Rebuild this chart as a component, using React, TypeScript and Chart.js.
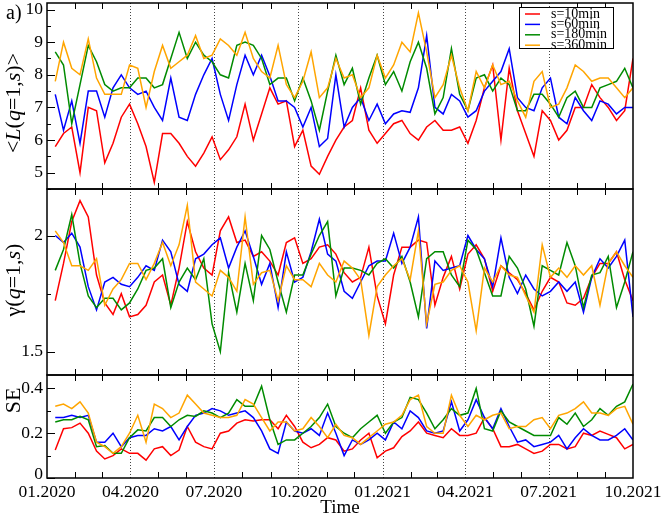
import React, { useEffect, useRef } from 'react';
import Chart from 'chart.js/auto';

// days counted from 01.01.2020, one point every 9 days
const days = [
  9, 18, 27, 36, 45, 54, 63, 72, 81, 90, 99, 108, 117, 126, 135, 144, 153, 162, 171, 180,
  189, 198, 207, 216, 225, 234, 243, 252, 261, 270, 279, 288, 297, 306, 315, 324, 333, 342, 351, 360,
  369, 378, 387, 396, 405, 414, 423, 432, 441, 450, 459, 468, 477, 486, 495, 504, 513, 522, 531, 540,
  549, 558, 567, 576, 585, 594, 603, 612, 621, 630, 639,
];

const seriesNames = ['s=10min', 's=60min', 's=180min', 's=360min'];

// <L(q=1,s)>
const lRed = [
  5.8, 6.2, 6.4, 5.0, 7.0, 6.9, 5.3, 5.9, 6.7, 7.1,
  6.5, 5.8, 4.7, 6.2, 6.2, 5.9, 5.5, 5.2, 5.6, 6.1,
  5.4, 5.7, 6.1, 7.1, 6.0, 6.8, 7.6, 7.1, 7.2, 5.8,
  6.3, 5.2, 4.95, 5.5, 6.0, 6.4, 6.6, 7.6, 6.3, 5.9,
  6.2, 6.5, 6.6, 6.2, 6.0, 6.4, 6.6, 6.3, 6.3, 6.4,
  5.9, 6.6, 7.6, 8.3, 6.0, 8.2, 6.9, 6.2, 5.5, 6.9,
  6.6, 6.0, 6.3, 7.0, 7.0, 7.7, 7.3, 7.0, 6.6, 6.9, 8.5,
];
const lBlue = [
  7.4, 6.3, 7.2, 5.9, 7.5, 7.5, 6.7, 7.6, 8.0, 7.6,
  7.4, 7.5, 7.0, 6.6, 7.9, 6.7, 6.6, 7.4, 8.0, 8.5,
  7.4, 6.6, 7.7, 8.6, 8.0, 8.6, 7.96, 7.2, 7.2, 7.0,
  6.4, 7.0, 5.8, 6.05, 8.0, 6.4, 7.0, 7.3, 6.6, 7.1,
  6.5, 6.8, 6.9, 6.85, 7.6, 9.2, 7.0, 6.8, 7.4, 7.2,
  6.7, 6.9, 7.5, 7.8, 8.1, 8.8, 7.3, 7.0, 6.9, 7.6,
  7.9, 6.7, 6.5, 7.3, 6.9, 6.6, 7.2, 7.1, 6.8, 7.0, 7.0,
];
const lGreen = [
  8.7, 8.3, 6.5, 7.7, 8.9, 8.4, 7.7, 7.5, 7.6, 7.6,
  7.9, 7.9, 7.6, 7.7, 8.5, 9.3, 8.5, 9.0, 8.6, 8.4,
  8.0, 7.9, 8.9, 9.0, 8.9, 8.5, 7.7, 7.9, 7.9, 7.2,
  7.9, 7.2, 6.3, 7.5, 8.6, 7.7, 8.2, 7.1, 7.9, 8.6,
  7.7, 8.1, 7.5, 8.4, 9.0, 8.2, 6.8, 7.3, 8.8, 7.4,
  6.9, 7.9, 8.0, 7.5, 7.9, 7.7, 6.9, 6.9, 7.4, 7.4,
  7.1, 6.7, 7.3, 7.5, 7.0, 7.0, 7.6, 7.7, 7.8, 8.2, 7.6,
];
const lOrange = [
  7.8, 9.0, 8.2, 8.0, 9.1, 7.9, 7.4, 7.4, 7.4, 8.3,
  8.2, 7.0, 8.1, 8.9, 8.2, 8.4, 8.6, 9.2, 8.5, 8.6,
  9.1, 8.9, 8.6, 9.3, 8.5, 8.1, 7.9, 8.9, 7.7, 7.3,
  7.8, 8.7, 7.3, 7.6, 8.5, 7.9, 8.0, 7.3, 7.6, 8.6,
  7.9, 8.3, 9.0, 8.7, 9.9, 8.7, 7.3, 7.7, 8.6, 7.6,
  6.9, 8.1, 7.6, 8.3, 7.7, 7.8, 7.2, 6.7, 7.8, 8.1,
  7.0, 7.1, 7.6, 8.3, 8.1, 7.8, 7.9, 7.9, 7.6, 7.3, 7.6,
];

// γ(q=1,s)
const gRed = [
  1.72, 1.88, 2.06, 2.15, 2.08, 1.83, 1.71, 1.66, 1.75, 1.65,
  1.66, 1.7, 1.8, 1.83, 1.7, 1.86, 2.06, 1.93, 1.86, 1.83,
  2.02, 2.08, 1.97, 1.98, 1.91, 1.93, 1.89, 1.83, 1.97, 1.99,
  1.88, 1.9, 1.95, 1.96, 1.92, 1.84, 1.8, 1.82, 1.95, 1.74,
  1.62, 1.83, 1.95, 1.95, 1.98, 1.97, 1.7, 1.82, 1.91, 1.77,
  1.92, 1.96, 1.9, 1.76, 1.87, 1.84, 1.81, 1.75, 1.68, 1.76,
  1.82, 1.8, 1.71, 1.7, 1.73, 1.82, 1.88, 1.88, 1.93, 1.81, 1.72,
];
const gBlue = [
  2.0, 1.97, 2.01, 1.95, 1.78, 1.68, 1.8, 1.82, 1.79, 1.78,
  1.82, 1.87, 1.85, 1.98, 1.93, 1.79, 1.76, 1.9, 1.92, 1.96,
  1.99, 1.86, 1.95, 2.02, 1.91, 1.79, 1.88, 1.69, 1.93, 1.8,
  1.82, 1.93, 2.07, 1.92, 1.89, 1.76, 1.73, 1.8, 1.87, 1.89,
  1.89, 2.01, 1.88, 1.95, 2.08, 1.6, 1.89, 1.85, 1.86, 1.87,
  2.0, 1.94, 1.9, 1.78, 1.99, 1.82, 1.75, 1.83, 1.77, 1.74,
  1.76, 1.8, 1.76, 1.8, 1.67, 1.82, 1.9, 1.86, 1.91, 1.98, 1.65,
];
const gGreen = [
  1.85, 1.94, 2.09, 1.88, 1.74, 1.69, 1.73, 1.73, 1.68, 1.71,
  1.77, 1.85, 1.86, 1.9, 1.69, 1.8, 1.86, 1.81, 1.9, 1.62,
  1.5, 1.84, 1.67, 1.88, 1.72, 2.0, 1.94, 1.8, 1.67, 1.83,
  1.83, 1.92, 2.0, 2.06, 1.74, 1.86, 1.86, 1.85, 1.83, 1.88,
  1.9, 1.86, 1.91, 1.8, 1.65, 1.9, 1.93, 1.93, 1.83, 1.78,
  1.98, 1.94, 1.84, 1.74, 1.74, 1.91, 1.86, 1.77, 1.61, 1.87,
  1.85, 1.83, 1.97, 1.87, 1.69, 1.83, 1.84, 1.91, 1.69, 1.8, 1.93,
];
const gOrange = [
  2.02, 1.97, 1.87, 1.87, 1.85, 1.9, 1.7, 1.77, 1.81, 1.88,
  1.88, 1.81, 1.88, 1.97, 1.87, 1.96, 2.13, 1.8, 1.77, 1.74,
  1.85, 1.82, 1.76, 2.08, 1.79, 1.84, 1.85, 1.72, 1.87, 1.81,
  1.81, 1.78, 1.88, 1.83, 1.8, 1.89, 1.86, 1.81, 1.57, 1.78,
  1.83, 1.87, 1.9, 1.81, 2.02, 1.62, 1.79, 1.8, 1.85, 1.87,
  1.8, 1.59, 1.86, 1.8, 1.87, 1.83, 1.82, 1.74, 1.67, 1.96,
  1.82, 1.86, 1.82, 1.87, 1.83, 1.87, 1.7, 1.88, 1.93, 1.87, 1.82,
];

// SE
const seRed = [
  0.125, 0.22, 0.225, 0.245, 0.2, 0.12, 0.085, 0.1, 0.13, 0.11,
  0.11, 0.08, 0.13, 0.14, 0.1, 0.125, 0.23, 0.16, 0.14, 0.13,
  0.2, 0.21, 0.245, 0.26, 0.255, 0.26, 0.26, 0.22, 0.28, 0.23,
  0.16, 0.135, 0.15, 0.18, 0.17, 0.12, 0.13, 0.17, 0.2, 0.09,
  0.12, 0.135, 0.185, 0.21, 0.25, 0.2, 0.19, 0.18, 0.22, 0.19,
  0.19, 0.2, 0.27, 0.22, 0.14, 0.14, 0.15, 0.13, 0.11, 0.12,
  0.15, 0.15, 0.13, 0.14, 0.2, 0.19, 0.21, 0.195, 0.18, 0.13, 0.15,
];
const seBlue = [
  0.27, 0.27, 0.28, 0.27, 0.28, 0.16, 0.16, 0.2, 0.14, 0.18,
  0.19, 0.19, 0.22, 0.21, 0.23, 0.17, 0.23, 0.28, 0.29, 0.31,
  0.3, 0.28, 0.29, 0.3, 0.27, 0.21, 0.13, 0.11, 0.25, 0.21,
  0.2, 0.22, 0.19, 0.29, 0.2, 0.1, 0.17, 0.15, 0.17, 0.2,
  0.17, 0.25, 0.22, 0.3, 0.27, 0.21, 0.2, 0.21, 0.34, 0.21,
  0.26, 0.35, 0.27, 0.22, 0.31, 0.23, 0.16, 0.17, 0.14, 0.15,
  0.16, 0.19, 0.13, 0.18, 0.22, 0.19, 0.17, 0.17, 0.19, 0.22, 0.17,
];
const seGreen = [
  0.25, 0.26, 0.26, 0.275, 0.26, 0.14, 0.145, 0.11, 0.11, 0.18,
  0.215, 0.21, 0.27, 0.27, 0.23, 0.26, 0.28, 0.275, 0.3, 0.29,
  0.27, 0.29, 0.35, 0.32, 0.32, 0.41, 0.26, 0.15, 0.17, 0.17,
  0.2, 0.23, 0.27, 0.33, 0.23, 0.2, 0.18, 0.22, 0.25, 0.28,
  0.2, 0.25, 0.27, 0.36, 0.35, 0.29, 0.22, 0.26, 0.31, 0.28,
  0.29, 0.4, 0.22, 0.21, 0.3, 0.25, 0.23, 0.21, 0.19, 0.19,
  0.19, 0.27, 0.24, 0.29, 0.23, 0.26, 0.31, 0.28, 0.32, 0.34, 0.42,
];
const seOrange = [
  0.32, 0.33, 0.31, 0.34, 0.29, 0.16, 0.14, 0.11, 0.14, 0.2,
  0.28, 0.16, 0.33, 0.31, 0.27, 0.29, 0.37, 0.33, 0.29, 0.28,
  0.27, 0.27, 0.28, 0.35, 0.33, 0.27, 0.21, 0.25, 0.25, 0.21,
  0.22, 0.27, 0.23, 0.18, 0.24, 0.19, 0.18, 0.15, 0.18, 0.21,
  0.24, 0.25, 0.28, 0.35, 0.37, 0.23, 0.2, 0.2, 0.37, 0.28,
  0.23, 0.28, 0.26, 0.28, 0.29, 0.22, 0.23, 0.23, 0.26, 0.27,
  0.22, 0.28, 0.29, 0.31, 0.34, 0.29, 0.29, 0.28, 0.31, 0.32, 0.24,
];

// x axis: month starts (days since 01.01.2020), labelled every quarter
const monthDays = [0, 31, 60, 91, 121, 152, 182, 213, 244, 274, 305, 335, 366, 397, 425, 456, 486, 517, 547, 578, 609, 639];
const quarterDays = [0, 91, 182, 274, 366, 456, 547, 639];
const quarterLabels = ['01.2020', '04.2020', '07.2020', '10.2020', '01.2021', '04.2021', '07.2021', '10.2021'];

const lTicks = [5, 6, 7, 8, 9, 10];
const lMinor = [4.5, 5.5, 6.5, 7.5, 8.5, 9.5];
const gTicks = [1.5, 2];
const gMinor = [1.75];
const seTicks = [0, 0.2, 0.4];
const seMinor = [0.1, 0.3];

const colors = ['#ff0000', '#0000ff', '#008b00', '#ffa500'];
const SERIF = '"Liberation Serif", "Times New Roman", serif';

type Part = { t: string; i?: boolean };

const panels = [
  {
    id: 'yL', min: 4.5, max: 10.2, weight: 186, order: 3,
    series: [lRed, lBlue, lGreen, lOrange], ticks: lTicks, minor: lMinor, titleShift: 7,
    title: [{ t: '<' }, { t: 'L', i: true }, { t: '(' }, { t: 'q', i: true }, { t: '=1,' }, { t: 's', i: true }, { t: ')>' }] as Part[],
  },
  {
    id: 'yG', min: 1.4, max: 2.2, weight: 186, order: 2,
    series: [gRed, gBlue, gGreen, gOrange], ticks: gTicks, minor: gMinor, titleShift: -2,
    title: [{ t: 'γ' }, { t: '(' }, { t: 'q', i: true }, { t: '=1,' }, { t: 's', i: true }, { t: ')' }] as Part[],
  },
  {
    id: 'yS', min: 0, max: 0.46, weight: 103, order: 1,
    series: [seRed, seBlue, seGreen, seOrange], ticks: seTicks, minor: seMinor, titleShift: -26,
    title: [{ t: 'SE' }] as Part[],
  },
];

function drawRotated(ctx: CanvasRenderingContext2D, parts: Part[], cx: number, cy: number, size: number) {
  ctx.save();
  ctx.translate(cx, cy);
  ctx.rotate(-Math.PI / 2);
  ctx.textBaseline = 'middle';
  ctx.textAlign = 'left';
  const fonts = parts.map((p) => `${p.i ? 'italic ' : ''}${size}px ${SERIF}`);
  const widths = parts.map((p, k) => {
    ctx.font = fonts[k];
    return ctx.measureText(p.t).width;
  });
  let x = -widths.reduce((a, b) => a + b, 0) / 2;
  parts.forEach((p, k) => {
    ctx.font = fonts[k];
    ctx.fillText(p.t, x, 0);
    x += widths[k];
  });
  ctx.restore();
}

const framePlugin = {
  id: 'frame',
  beforeDatasetsDraw(chart: any) {
    const { ctx, chartArea, scales } = chart;
    ctx.save();
    ctx.strokeStyle = '#444';
    ctx.lineWidth = 1;
    ctx.setLineDash([1, 2]);
    quarterDays.slice(1, -1).forEach((d) => {
      const px = Math.round(scales.x.getPixelForValue(d)) + 0.5;
      ctx.beginPath();
      ctx.moveTo(px, chartArea.top);
      ctx.lineTo(px, chartArea.bottom);
      ctx.stroke();
    });
    ctx.restore();
  },
  afterDatasetsDraw(chart: any) {
    const { ctx, chartArea, scales } = chart;
    const xs = scales.x;
    ctx.save();
    ctx.strokeStyle = '#000';
    ctx.fillStyle = '#000';
    ctx.setLineDash([]);

    panels.forEach((p) => {
      const ys = scales[p.id];
      ctx.lineWidth = 1.5;
      ctx.strokeRect(xs.left, ys.top, xs.right - xs.left, ys.bottom - ys.top);

      // month ticks on the top and bottom edge of each panel, pointing inward
      ctx.lineWidth = 1;
      monthDays.forEach((d) => {
        if (quarterDays.includes(d)) return;
        const px = Math.round(xs.getPixelForValue(d)) + 0.5;
        ctx.beginPath();
        ctx.moveTo(px, ys.top);
        ctx.lineTo(px, ys.top + 6);
        ctx.moveTo(px, ys.bottom);
        ctx.lineTo(px, ys.bottom - 6);
        ctx.stroke();
      });

      // y ticks
      p.ticks.forEach((v) => {
        const py = Math.round(ys.getPixelForValue(v)) + 0.5;
        ctx.beginPath();
        ctx.moveTo(xs.left, py);
        ctx.lineTo(xs.left + 8, py);
        ctx.stroke();
      });
      p.minor.forEach((v) => {
        const py = Math.round(ys.getPixelForValue(v)) + 0.5;
        ctx.beginPath();
        ctx.moveTo(xs.left, py);
        ctx.lineTo(xs.left + 4, py);
        ctx.stroke();
      });
      ctx.font = `17.5px ${SERIF}`;
      ctx.textAlign = 'right';
      ctx.textBaseline = 'middle';
      p.ticks.forEach((v) => {
        const py = Math.min(ys.getPixelForValue(v), ys.bottom - 4);
        ctx.fillText(String(v), xs.left - 4, py);
      });

      drawRotated(ctx, p.title, 14, (ys.top + ys.bottom) / 2 + p.titleShift, 22);
    });

    // x labels
    ctx.font = `17.5px ${SERIF}`;
    ctx.textAlign = 'center';
    ctx.textBaseline = 'alphabetic';
    quarterDays.forEach((d, k) => {
      ctx.fillText(quarterLabels[k], xs.getPixelForValue(d), chartArea.bottom + 19);
    });
    ctx.font = `19px ${SERIF}`;
    ctx.fillText('Time', (xs.left + xs.right) / 2, chartArea.bottom + 35);

    ctx.textAlign = 'left';
    ctx.font = `20px ${SERIF}`;
    ctx.fillText('a)', 6, 19);

    // legend
    const bx = xs.right - 114;
    const by = chartArea.top + 4;
    ctx.fillStyle = '#fff';
    ctx.fillRect(bx, by, 94, 41);
    ctx.lineWidth = 1;
    ctx.strokeStyle = '#000';
    ctx.strokeRect(bx + 0.5, by + 0.5, 94, 41);
    ctx.font = `14px ${SERIF}`;
    ctx.textBaseline = 'middle';
    seriesNames.forEach((name, k) => {
      const ry = by + 7 + k * 10.4;
      ctx.strokeStyle = colors[k];
      ctx.lineWidth = 1.5;
      ctx.beginPath();
      ctx.moveTo(bx + 6, ry);
      ctx.lineTo(bx + 21, ry);
      ctx.stroke();
      ctx.fillStyle = '#000';
      ctx.fillText(name, bx + 32, ry);
    });
    ctx.restore();
  },
};

const App: React.FC = () => {
  const canvasRef = useRef<HTMLCanvasElement>(null);

  useEffect(() => {
    const canvas = canvasRef.current;
    let chart: Chart | null = null;

    if (canvas) {
      const datasets = panels.flatMap((p) =>
        p.series.map((vals, k) => ({
          label: seriesNames[k],
          data: days.map((d, i) => ({ x: d, y: vals[i] })),
          yAxisID: p.id,
          borderColor: colors[k],
          borderWidth: 1.5,
          pointRadius: 0,
          tension: 0,
          fill: false,
          order: 4 - k,
        }))
      );

      const scales: any = {
        x: { type: 'linear', min: 0, max: 639, display: false },
      };
      panels.forEach((p) => {
        scales[p.id] = {
          type: 'linear',
          position: 'left',
          stack: 'panels',
          stackWeight: p.weight,
          weight: p.order,
          min: p.min,
          max: p.max,
          display: false,
        };
      });

      chart = new Chart(canvas, {
        type: 'line',
        data: { datasets },
        options: {
          animation: false,
          responsive: true,
          maintainAspectRatio: false,
          events: [],
          layout: { padding: { left: 47, right: 31, top: 3, bottom: 37 } },
          plugins: { legend: { display: false }, tooltip: { enabled: false } },
          scales,
        },
        plugins: [framePlugin],
      });
    }

    return () => {
      if (chart) {
        chart.destroy();
      }
    };
  }, []);

  return (
    <div style={{ position: 'fixed', left: 0, top: 0, width: 664, height: 515, background: '#fff' }}>
      <canvas ref={canvasRef}></canvas>
    </div>
  );
};

export default App;
